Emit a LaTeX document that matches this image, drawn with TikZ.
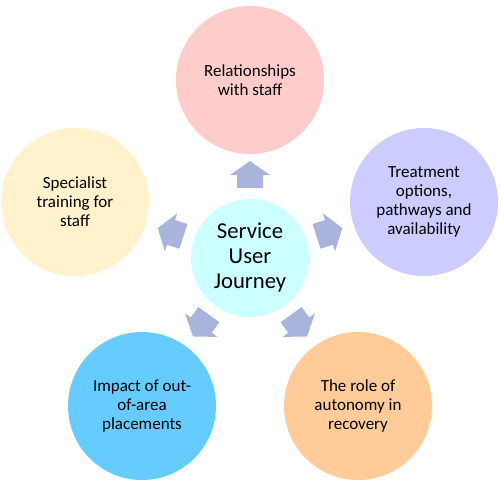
\documentclass[tikz,border=0pt]{standalone}
\usepackage{fontspec}
\setmainfont{Carlito}
\usepackage{xcolor}
\usepackage{tikz}
\usetikzlibrary{
    positioning,
    calc
}
\definecolor{fillPink}{RGB}{255, 204, 204}
\definecolor{fillLilac}{RGB}{204, 204, 255}
\definecolor{fillCream}{RGB}{255, 242, 204}
\definecolor{fillSky}{RGB}{102, 204, 255}
\definecolor{fillPeach}{RGB}{255, 204, 153}
\definecolor{fillCyan}{RGB}{204, 255, 255}
\definecolor{arrowBlue}{RGB}{168, 180, 220}

\begin{document}
\begin{tikzpicture}[x=1pt, y=1pt,
    outer/.style={circle, minimum size=148pt, inner sep=0pt, align=center,
        font=\fontsize{17}{19}\selectfont},
    hub/.style={circle, minimum size=118pt, inner sep=0pt, align=center,
        font=\fontsize{22.7}{25}\selectfont, fill=fillCyan},
    blockarrow/.style={fill=arrowBlue}]
        % 枠
        \useasboundingbox (0,0) rectangle (500,483);

        % 座標設定
        \coordinate (C) at (250,225);

        % 矢印
        \foreach \ang in {90, 18, 162, 234, 306} {
            \fill[blockarrow, shift={(C)}, rotate=\ang]
                (70,-13) -- (83,-13) -- (83,-20) -- (97,0)
                -- (83,20) -- (83,13) -- (70,13) -- cycle;
        }

        % 円
        \node[hub] (journey) at (C) {Service\\User\\Journey};
        \node[outer, fill=fillPink] (staff) at (250,403) {Relationships\\with staff};
        \node[outer, fill=fillLilac] (treatment) at (424,281) {Treatment\\options,\\pathways and\\availability};
        \node[outer, fill=fillCream] (training) at (75,281) {Specialist\\training for\\staff};
        \node[outer, fill=fillSky] (placements) at (142,77) {Impact of out-\\of-area\\placements};
        \node[outer, fill=fillPeach] (autonomy) at (358,77) {The role of\\autonomy in\\recovery};
    \end{tikzpicture}
\end{document}
